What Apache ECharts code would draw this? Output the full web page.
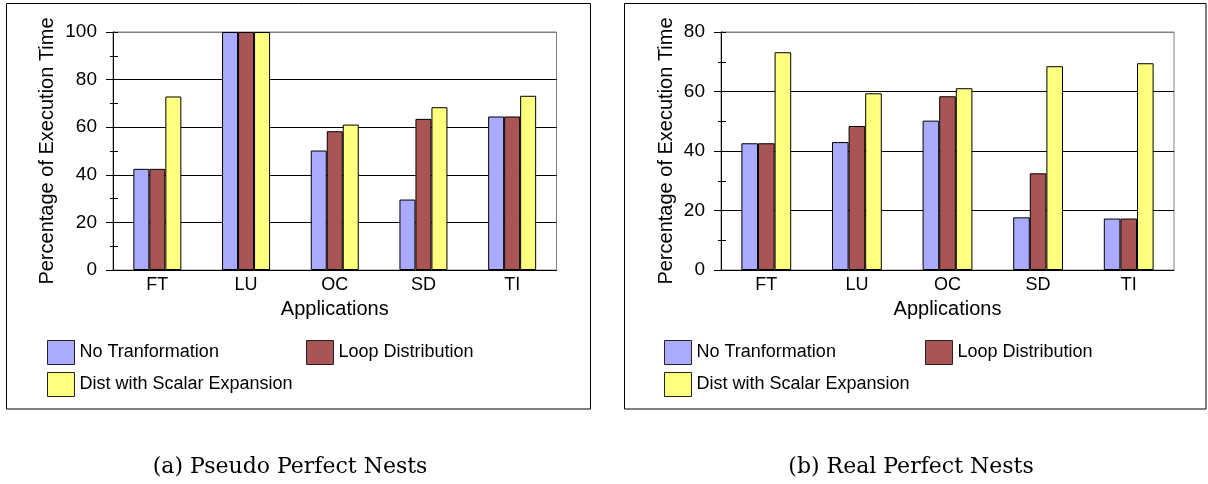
<!DOCTYPE html>
<html>
<head>
    <meta charset="utf-8">
    <title>Perfect Nests</title>
    <style>
        body { margin: 0; background: #fff; }
        #chart { width: 1208px; height: 484px; }
    </style>
</head>
<body>
    <div id="chart"></div>
    <script src="https://cdn.jsdelivr.net/npm/echarts@6/dist/echarts.min.js"></script>
    <script>
// categories and series
var categories = ['FT', 'LU', 'OC', 'SD', 'TI'];
var seriesNames = ['No Tranformation', 'Loop Distribution', 'Dist with Scalar Expansion'];
var colors = ['#aaaaff', '#aa5555', '#ffff80'];

// (a) Pseudo Perfect Nests
var pseudoNoTrans = [42.5, 100, 50.2, 29.6, 64.5];
var pseudoLoopDist = [42.5, 100, 58.3, 63.5, 64.5];
var pseudoScalarExp = [72.9, 100, 61.1, 68.4, 73.2];
var pseudoYAxis = [0, 100, 20];   // min, max, interval

// (b) Real Perfect Nests
var realNoTrans = [42.6, 43.0, 50.2, 17.7, 17.3];
var realLoopDist = [42.6, 48.4, 58.4, 32.5, 17.3];
var realScalarExp = [73.2, 59.4, 61.1, 68.5, 69.5];
var realYAxis = [0, 80, 20];

var captions = ['(a) Pseudo Perfect Nests', '(b) Real Perfect Nests'];

var chart = echarts.init(document.getElementById('chart'));
var sans = 'Liberation Sans, Arial, sans-serif';

var grids = [
    { left: 113, top: 32, width: 443.5, height: 238, show: true, borderColor: '#808080', borderWidth: 1 },
    { left: 721, top: 32, width: 453, height: 238, show: true, borderColor: '#808080', borderWidth: 1 }
];

// main x axis + an overlay one just for the inner half of the ticks
function xAxes(gi) {
    return [{
        type: 'category', gridIndex: gi, data: categories,
        name: 'Applications', nameLocation: 'middle', nameGap: 29,
        nameTextStyle: { color: '#000', fontSize: 20, fontFamily: sans },
        axisLine: { lineStyle: { color: '#000' } },
        axisTick: { length: 5, lineStyle: { color: '#000' } },
        axisLabel: { color: '#000', fontSize: 18, fontFamily: sans, margin: 6 }
    }, {
        type: 'category', gridIndex: gi, data: categories, position: 'bottom',
        axisLine: { show: false },
        axisTick: { inside: true, length: 4, lineStyle: { color: '#000' } },
        axisLabel: { show: false }
    }];
}

function yAxes(gi, rng, gap) {
    var n = (rng[1] - rng[0]) / rng[2];
    var lineColors = [];
    for (var i = 0; i <= n; i++) lineColors.push(i === n ? '#808080' : '#000');
    return [{
        type: 'value', gridIndex: gi, min: rng[0], max: rng[1], interval: rng[2],
        name: 'Percentage of Execution Time', nameLocation: 'middle', nameGap: gap,
        nameTextStyle: { color: '#000', fontSize: 20, fontFamily: sans },
        axisLine: { show: true, lineStyle: { color: '#000' } },
        axisTick: { show: true, length: 7, lineStyle: { color: '#000' } },
        minorTick: { show: true, splitNumber: 2, length: 3, lineStyle: { color: '#000' } },
        splitLine: { show: true, lineStyle: { color: lineColors, width: 1 } },
        axisLabel: { color: '#000', fontSize: 19, fontFamily: sans, margin: 16 }
    }, {
        type: 'value', gridIndex: gi, min: rng[0], max: rng[1], interval: rng[2],
        position: 'left',
        axisLine: { show: false },
        axisTick: { show: true, inside: true, length: 5, lineStyle: { color: '#000' } },
        minorTick: { show: true, splitNumber: 2, length: 5, lineStyle: { color: '#000' } },
        splitLine: { show: false },
        axisLabel: { show: false }
    }];
}

function barSeries(gi, values, bw) {
    return values.map(function (v, k) {
        return {
            name: seriesNames[k], type: 'bar',
            xAxisIndex: gi * 2, yAxisIndex: gi * 2,
            data: v, barWidth: bw, barGap: '0%',
            itemStyle: { color: colors[k], borderColor: '#000', borderWidth: 1 },
            emphasis: { disabled: true },
            animation: false
        };
    });
}

function legends(x1, x2) {
    var pos = [[x1, 340], [x2, 340], [x1, 372]];
    return seriesNames.map(function (nm, k) {
        return {
            data: [nm], left: pos[k][0], top: pos[k][1], padding: 0,
            itemWidth: 27, itemHeight: 24, icon: 'rect',
            itemStyle: { borderColor: '#222', borderWidth: 1 },
            textStyle: { color: '#000', fontSize: 18, fontFamily: sans }
        };
    });
}

var option = {
    backgroundColor: '#fff',
    animation: false,
    grid: grids,
    xAxis: xAxes(0).concat(xAxes(1)),
    yAxis: yAxes(0, pseudoYAxis, 56).concat(yAxes(1, realYAxis, 45)),
    legend: legends(47, 306).concat(legends(664, 925)),
    series: barSeries(0, [pseudoNoTrans, pseudoLoopDist, pseudoScalarExp], 16)
        .concat(barSeries(1, [realNoTrans, realLoopDist, realScalarExp], 16.6)),
    graphic: [
        { type: 'rect', shape: { x: 6.5, y: 3.5, width: 584, height: 405.5 },
          style: { fill: 'none', stroke: '#000', lineWidth: 1 }, silent: true },
        { type: 'rect', shape: { x: 624.5, y: 3.5, width: 581.5, height: 405.5 },
          style: { fill: 'none', stroke: '#000', lineWidth: 1 }, silent: true },
        { type: 'text', x: 290, y: 467,
          style: { text: captions[0], textAlign: 'center', textVerticalAlign: 'middle',
                   font: '22px "DejaVu Serif", serif', fill: '#000' } },
        { type: 'text', x: 911, y: 467,
          style: { text: captions[1], textAlign: 'center', textVerticalAlign: 'middle',
                   font: '22px "DejaVu Serif", serif', fill: '#000' } }
    ]
};

chart.setOption(option);
window.addEventListener('resize', function () { chart.resize(); });
    </script>
</body>
</html>
